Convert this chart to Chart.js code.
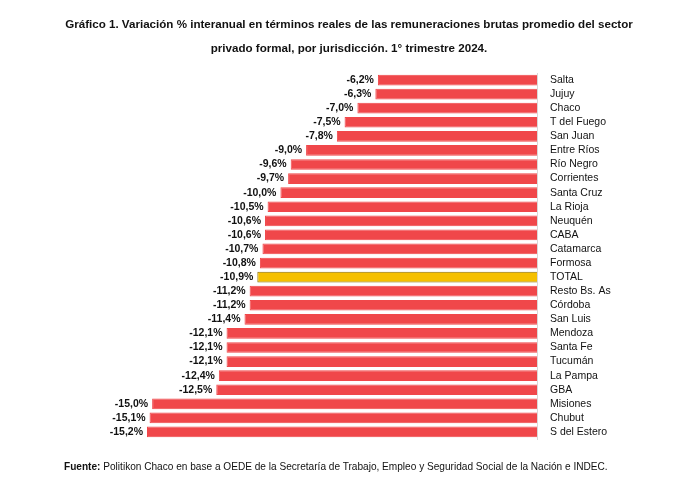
<!DOCTYPE html>
<html><head><meta charset="utf-8">
<script src="https://cdn.jsdelivr.net/npm/chart.js@4"></script>
<style>
body{margin:0;background:#fff;font-family:"Liberation Sans",Arial,sans-serif}
#wrap{position:relative;width:700px;height:489px}
#t{position:absolute;top:12px;left:0;width:698px;text-align:center;font-weight:bold;font-size:11.6px;line-height:24px;color:#111}
#f{position:absolute;top:461px;left:64px;font-size:10.1px;color:#111}
canvas{position:absolute;left:0;top:0}
</style></head><body>
<div id="wrap">
<canvas id="c" width="700" height="489"></canvas>
<div id="t">Gráfico 1. Variación % interanual en términos reales de las remuneraciones brutas promedio del sector<br>privado formal, por jurisdicción. 1° trimestre 2024.</div>
<div id="f"><b>Fuente:</b> Politikon Chaco en base a OEDE de la Secretaría de Trabajo, Empleo y Seguridad Social de la Nación e INDEC.</div>
</div>
<script>
const provinces = ['Salta','Jujuy','Chaco','T del Fuego','San Juan','Entre Ríos','Río Negro','Corrientes','Santa Cruz','La Rioja','Neuquén','CABA','Catamarca','Formosa','TOTAL','Resto Bs. As','Córdoba','San Luis','Mendoza','Santa Fe','Tucumán','La Pampa','GBA','Misiones','Chubut','S del Estero'];
const variation = [-6.2,-6.3,-7.0,-7.5,-7.8,-9.0,-9.6,-9.7,-10.0,-10.5,-10.6,-10.6,-10.7,-10.8,-10.9,-11.2,-11.2,-11.4,-12.1,-12.1,-12.1,-12.4,-12.5,-15.0,-15.1,-15.2];
const colors = provinces.map(p => p === 'TOTAL' ? '#f5c000' : '#f0474a');
const borders = provinces.map(p => p === 'TOTAL' ? '#8a6d00' : '#f0474a');

const valueLabels = {
  id: 'valueLabels',
  afterDatasetsDraw(chart) {
    const ctx = chart.ctx;
    const meta = chart.getDatasetMeta(0);
    ctx.save();
    ctx.font = 'bold 10.5px "Liberation Sans",Arial';
    ctx.fillStyle = '#111';
    ctx.textAlign = 'right';
    ctx.textBaseline = 'middle';
    meta.data.forEach((bar, i) => {
      ctx.fillText(variation[i].toFixed(1).replace('.', ',') + '%', bar.x - 4, bar.y);
    });
    ctx.restore();
  }
};

new Chart(document.getElementById('c'), {
  type: 'bar',
  data: {
    labels: provinces,
    datasets: [{ data: variation, backgroundColor: colors, borderColor: borders, borderWidth: 1,
      barPercentage: 0.76, categoryPercentage: 1 }]
  },
  options: {
    indexAxis: 'y',
    responsive: false,
    animation: false,
    layout: { padding: { left: 147, top: 73, bottom: 50, right: 0 } },
    plugins: { legend: { display: false }, tooltip: { enabled: false } },
    scales: {
      x: { min: -15.2, max: 0, display: false },
      y: {
        position: 'right',
        grid: { display: false },
        border: { display: true, color: '#d8d8d8' },
        ticks: { color: '#111', padding: 5, autoSkip: false, font: { size: 10.5, family: '"Liberation Sans",Arial' } },
        afterFit(s) { s.width = 163; }
      }
    }
  },
  plugins: [valueLabels]
});
</script>
</body></html>
